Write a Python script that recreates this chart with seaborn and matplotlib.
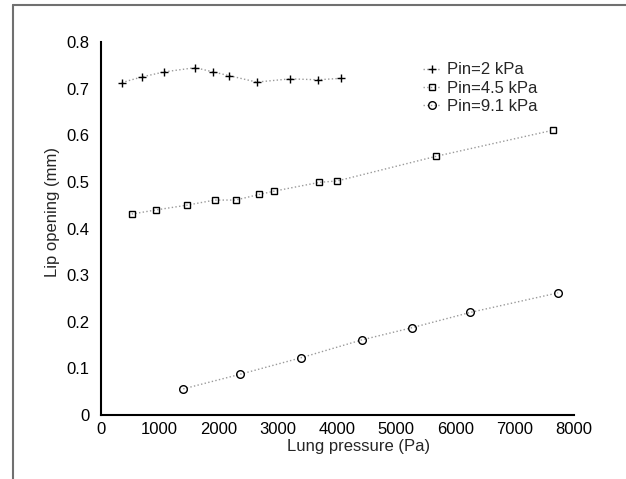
import numpy as np
import pandas as pd
import matplotlib
matplotlib.use("Agg")
import matplotlib.pyplot as plt
from matplotlib.lines import Line2D
import seaborn as sns

# Lip opening versus lung pressure for three mouth-piece pressures
p_2kpa = [358, 695, 1080, 1600, 1897, 2167, 2640, 3207, 3673, 4057]
h_2kpa = [0.713, 0.725, 0.736, 0.745, 0.736, 0.728, 0.714, 0.721, 0.719, 0.722]

p_45kpa = [527, 945, 1458, 1931, 2282, 2680, 2930, 3700, 4003, 5678, 7656]
h_45kpa = [0.431, 0.440, 0.450, 0.461, 0.461, 0.473, 0.480, 0.499, 0.502, 0.555, 0.611]

p_91kpa = [1397, 2349, 3396, 4415, 5259, 6251, 7737]
h_91kpa = [0.056, 0.087, 0.123, 0.161, 0.187, 0.220, 0.262]

labels = ["Pin=2 kPa", "Pin=4.5 kPa", "Pin=9.1 kPa"]
markers = ["+", "s", "o"]
x_ticks = [0, 1000, 2000, 3000, 4000, 5000, 6000, 7000, 8000]
y_ticks = [0, 0.1, 0.2, 0.3, 0.4, 0.5, 0.6, 0.7, 0.8]

sns.set_style("white")
plt.rcParams["font.family"] = ["Liberation Sans", "DejaVu Sans"]

fig = plt.figure(figsize=(6.26, 4.79), dpi=100)
ax = fig.add_axes([0.1607, 0.1336, 0.7557, 0.7787])

series = [(p_2kpa, h_2kpa), (p_45kpa, h_45kpa), (p_91kpa, h_91kpa)]
msizes = [6, 4.5, 5.5]
for (px, hy), lab, mk, ms in zip(series, labels, markers, msizes):
    df = pd.DataFrame({"p": px, "h": hy})
    sns.lineplot(data=df, x="p", y="h", ax=ax, label=lab, marker=mk,
                 markersize=ms, color="#9a9a9a", linestyle=":", linewidth=1.0,
                 markeredgecolor="black", markerfacecolor="none",
                 markeredgewidth=1.0, sort=False)

ax.set_xlim(0, 8000)
ax.set_ylim(0, 0.8)
ax.set_xticks(x_ticks)
ax.set_yticks(y_ticks)
ax.set_xticklabels([str(t) for t in x_ticks])
ax.set_yticklabels(["0" if t == 0 else f"{t:.1f}" for t in y_ticks])

for side in ["top", "right"]:
    ax.spines[side].set_visible(False)
for side in ["left", "bottom"]:
    ax.spines[side].set_color("black")
    ax.spines[side].set_linewidth(1.5)

ax.tick_params(axis="both", direction="in", length=4, width=0.8,
               color="#444444", labelsize=12, labelcolor="black")
ax.tick_params(axis="y", pad=8)
ax.tick_params(axis="x", pad=5)

ax.set_xlabel("Lung pressure (Pa)", fontsize=12)
ax.set_ylabel("Lip opening (mm)", fontsize=12)
ax.xaxis.set_label_coords(0.546, -0.064)
ax.yaxis.set_label_coords(-0.086, 0.544)

leg = ax.legend(loc="upper left", bbox_to_anchor=(0.668, 0.963), frameon=False,
                fontsize=12, handlelength=1.0, handletextpad=0.4,
                labelspacing=0.2, borderaxespad=0)

# frame lines along the top and left edges of the figure
fig.add_artist(Line2D([13 / 626, 1.0], [1 - 5 / 479, 1 - 5 / 479],
                      transform=fig.transFigure, color="#707070", linewidth=1.5))
fig.add_artist(Line2D([13 / 626, 13 / 626], [0.0, 1 - 5 / 479],
                      transform=fig.transFigure, color="#707070", linewidth=1.5))

fig.savefig("out.png", dpi=100)
